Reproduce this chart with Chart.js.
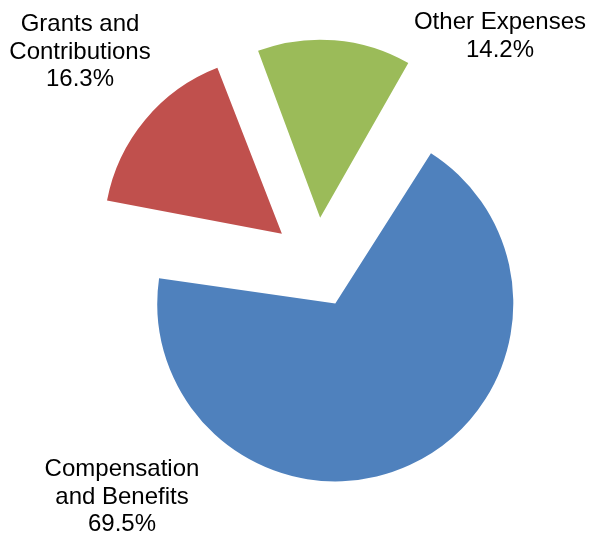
<!DOCTYPE html>
<html>
<head>
<meta charset="utf-8">
<script src="https://cdn.jsdelivr.net/npm/chart.js@4"></script>
<style>
  html, body { margin: 0; padding: 0; background: #ffffff; }
  #wrap { width: 590px; height: 539px; position: relative; }
</style>
</head>
<body>
<div id="wrap"><canvas id="c"></canvas></div>
<script>
// ---- data ----
const categories = ["Compensation and Benefits", "Grants and Contributions", "Other Expenses"];
const labelLines = [["Compensation", "and Benefits"], ["Grants and", "Contributions"], ["Other Expenses"]];
const values = [69.5, 16.3, 14.2];

// ---- style ----
const colors = ["#4F81BD", "#C0504D", "#9BBB59"];
const explodePx = 45;          // translation of each slice
const pieRadius = 178;         // drawn radius of every slice
const labelFont = "24px 'Liberation Sans', Arial, sans-serif";
const lineHeight = 27.5;
// label block centre (x) and first baseline (y) in canvas px
const labelPos = [
  { x: 122, y: 476 },
  { x: 80, y: 31 },
  { x: 500, y: 29 }
];

// keep all exploded slices the same radius (Chart.js adds offset*fix to the radius)
const equalRadius = {
  id: 'equalRadius',
  afterDatasetsUpdate(chart) {
    const meta = chart.getDatasetMeta(0);
    meta.data.forEach(arc => {
      const off = (arc.options.offset || 0) / 4;
      const circ = arc.endAngle - arc.startAngle;
      const fix = 1 - Math.sin(Math.min(Math.PI, circ));
      arc.outerRadius = pieRadius - off * fix;
    });
  }
};

const sliceLabels = {
  id: 'sliceLabels',
  afterDatasetsDraw(chart) {
    const ctx = chart.ctx;
    ctx.save();
    ctx.font = labelFont;
    ctx.fillStyle = '#000000';
    ctx.textAlign = 'center';
    ctx.textBaseline = 'alphabetic';
    values.forEach((v, i) => {
      const lines = labelLines[i].concat([v.toFixed(1) + '%']);
      lines.forEach((t, k) => {
        ctx.fillText(t, labelPos[i].x, labelPos[i].y + k * lineHeight);
      });
    });
    ctx.restore();
  }
};

new Chart(document.getElementById('c'), {
  type: 'pie',
  data: {
    labels: categories,
    datasets: [{
      data: values,
      backgroundColor: colors,
      borderWidth: 0,
      offset: explodePx * 4
    }]
  },
  options: {
    responsive: true,
    maintainAspectRatio: false,
    animation: false,
    events: [],
    rotation: 30.2,
    radius: pieRadius,
    layout: { padding: { left: 43, right: 0, top: 0, bottom: 14 } },
    plugins: {
      legend: { display: false },
      tooltip: { enabled: false }
    }
  },
  plugins: [equalRadius, sliceLabels]
});
</script>
</body>
</html>
